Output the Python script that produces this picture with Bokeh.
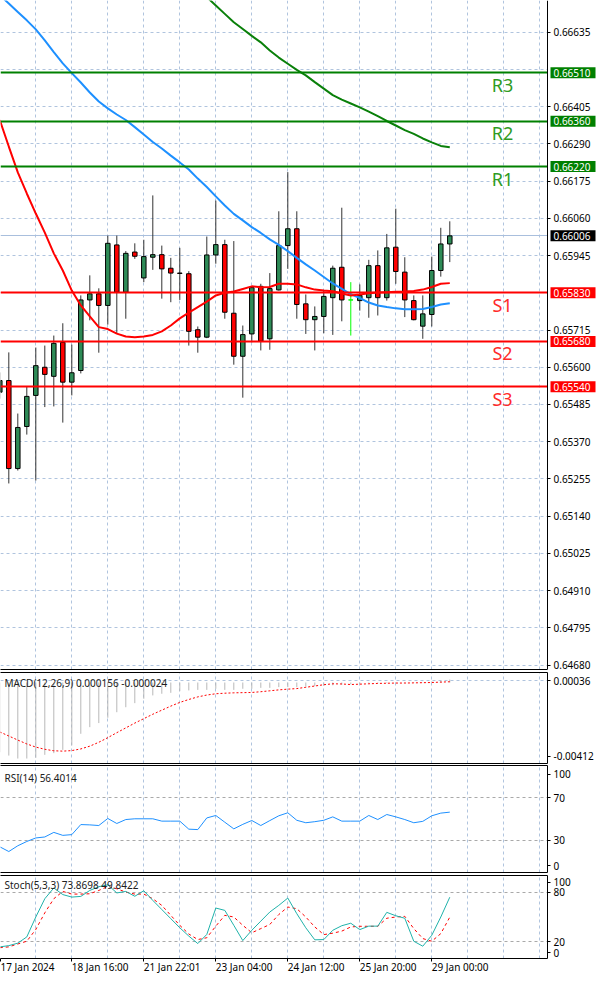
from bokeh.plotting import figure
from bokeh.layouts import column
from bokeh.models import (Range1d, FixedTicker, LinearAxis, Label, ColumnDataSource,
                          NumeralTickFormatter)
from bokeh.embed import file_html
from bokeh.resources import INLINE
from bokeh.core.properties import value

# ---------------- data (H4 candles, index -1 .. 49) ----------------
idx = list(range(-1, 50))

open_ = [0.65523, 0.65559, 0.65287, 0.65417, 0.65513, 0.65600, 0.65572, 0.65677, 0.65554, 0.65590,
         0.65808, 0.65827, 0.65791, 0.65978, 0.65832, 0.65956, 0.65876, 0.65940, 0.65948, 0.65906,
         0.65891, 0.65889, 0.65716, 0.65693, 0.65947, 0.65979, 0.65767, 0.65634, 0.65703, 0.65850,
         0.65688, 0.65839, 0.65976, 0.66028, 0.65796, 0.65747, 0.65757, 0.65815, 0.65909, 0.65808,
         0.65806, 0.65815, 0.65914, 0.65815, 0.65971, 0.65894, 0.65806, 0.65727, 0.65763, 0.65899,
         0.65981]
high = [0.65584, 0.65646, 0.65457, 0.65541, 0.65661, 0.65667, 0.65698, 0.65736, 0.65670, 0.65822,
        0.65884, 0.65844, 0.66007, 0.66007, 0.65959, 0.65983, 0.65994, 0.66131, 0.65976, 0.65938,
        0.65969, 0.65897, 0.65726, 0.66004, 0.66115, 0.65994, 0.65990, 0.65729, 0.65850, 0.65858,
        0.65891, 0.66082, 0.66203, 0.66082, 0.65825, 0.65788, 0.65839, 0.65914, 0.66093, 0.65863,
        0.65856, 0.65932, 0.65961, 0.66012, 0.66090, 0.65940, 0.65822, 0.65822, 0.65942, 0.66031,
        0.66051]
low = [0.65503, 0.65241, 0.65281, 0.65392, 0.65250, 0.65477, 0.65479, 0.65429, 0.65513, 0.65581,
       0.65745, 0.65645, 0.65732, 0.65705, 0.65750, 0.65935, 0.65863, 0.65901, 0.65812, 0.65801,
       0.65808, 0.65667, 0.65645, 0.65690, 0.65920, 0.65750, 0.65608, 0.65506, 0.65677, 0.65652,
       0.65654, 0.65837, 0.65904, 0.65750, 0.65703, 0.65652, 0.65705, 0.65700, 0.65742, 0.65698,
       0.65775, 0.65753, 0.65760, 0.65806, 0.65858, 0.65755, 0.65745, 0.65688, 0.65726, 0.65880,
       0.65925]
close = [0.65559, 0.65287, 0.65414, 0.65510, 0.65605, 0.65578, 0.65674, 0.65554, 0.65583, 0.65808,
         0.65827, 0.65791, 0.65983, 0.65832, 0.65952, 0.65943, 0.65942, 0.65948, 0.65904, 0.65891,
         0.65890, 0.65711, 0.65693, 0.65947, 0.65979, 0.65770, 0.65634, 0.65701, 0.65846, 0.65681,
         0.65843, 0.65976, 0.66028, 0.65794, 0.65747, 0.65757, 0.65819, 0.65906, 0.65808, 0.65808,
         0.65822, 0.65914, 0.65815, 0.65969, 0.65896, 0.65808, 0.65747, 0.65765, 0.65899, 0.65981,
         0.66006]

ma_red = [0.66364, 0.66282, 0.66202, 0.66137, 0.66075, 0.66016, 0.65952, 0.65899, 0.65837, 0.65791,
          0.65757, 0.65724, 0.65718, 0.65704, 0.65695, 0.65693, 0.65695, 0.65700, 0.65711, 0.65729,
          0.65751, 0.65769, 0.65786, 0.65803, 0.65822, 0.65830, 0.65834, 0.65842, 0.65850, 0.65847,
          0.65848, 0.65858, 0.65858, 0.65856, 0.65847, 0.65840, 0.65837, 0.65835, 0.65828, 0.65822,
          0.65825, 0.65829, 0.65831, 0.65832, 0.65833, 0.65834, 0.65836, 0.65840, 0.65848, 0.65858,
          0.65860]
ma_blue = [0.66750, 0.66724, 0.66698, 0.66672, 0.66644, 0.66610, 0.66574, 0.66539, 0.66509, 0.66480,
           0.66449, 0.66421, 0.66400, 0.66381, 0.66364, 0.66342, 0.66319, 0.66296, 0.66276, 0.66254,
           0.66233, 0.66211, 0.66183, 0.66157, 0.66128, 0.66100, 0.66074, 0.66054, 0.66033, 0.66015,
           0.65995, 0.65978, 0.65959, 0.65938, 0.65918, 0.65899, 0.65879, 0.65859, 0.65842, 0.65826,
           0.65814, 0.65800, 0.65791, 0.65786, 0.65782, 0.65779, 0.65779, 0.65780, 0.65786, 0.65794,
           0.65798]
ma_green_idx = list(range(21, 50))
ma_green = [0.66770, 0.66744, 0.66718, 0.66692, 0.66666, 0.66645, 0.66624, 0.66604, 0.66579, 0.66557,
            0.66538, 0.66519, 0.66502, 0.66481, 0.66461, 0.66441, 0.66427, 0.66415, 0.66403, 0.66390,
            0.66376, 0.66361, 0.66347, 0.66333, 0.66321, 0.66307, 0.66295, 0.66284, 0.66280]

macd_hist = [-0.00378, -0.00396, -0.00412, -0.00412, -0.00408, -0.00392, -0.00383, -0.00365, -0.00341, -0.00278,
             -0.00242, -0.00220, -0.00191, -0.00161, -0.00134, -0.00112, -0.00088, -0.00070, -0.00061, -0.00056,
             -0.00047, -0.00043, -0.00040, -0.00040, -0.00034, -0.00040, -0.00040, -0.00034, -0.00034, -0.00029,
             -0.00029, -0.00025, -0.00025, -0.00025, -0.00022, -0.00020, -0.00018, -0.00015, -0.00012, -0.00010,
             -0.00008, -0.00006, -0.00004, -0.00003, -0.00002, -0.00003, -0.00002, 0.00001, 0.00006, 0.00011,
             0.000156]
macd_signal = [-0.00268, -0.00290, -0.00312, -0.00333, -0.00350, -0.00362, -0.00370, -0.00372, -0.00369, -0.00360,
               -0.00345, -0.00324, -0.00299, -0.00272, -0.00246, -0.00220, -0.00196, -0.00172, -0.00150, -0.00128,
               -0.00108, -0.00092, -0.00078, -0.00068, -0.00061, -0.00058, -0.00056, -0.00055, -0.00054, -0.00050,
               -0.00045, -0.00040, -0.00036, -0.00033, -0.00026, -0.00019, -0.00012, -0.00007, -0.00008, -0.00011,
               -0.00009, -0.00007, -0.00005, -0.00004, -0.00003, -0.00003, -0.00002, -0.00001, 0.00000, 0.00002,
               0.00004]

rsi = [24, 19.6, 25, 29, 32.3, 33.2, 37.5, 34.7, 35.4, 44.8,
       44.5, 43.9, 50.5, 45.8, 49.5, 50.2, 50.2, 50.2, 48, 48,
       48, 40.5, 40.1, 51, 53.3, 47, 40.8, 45, 48.6, 43.9,
       48.5, 53, 55.8, 48.8, 46.5, 47.5, 48.8, 52, 48, 48,
       48, 53.3, 49.5, 54.2, 52, 49.5, 46.5, 47.8, 53, 55.5,
       56.4014]

stoch_k = [14, 15.5, 18.5, 26, 50, 72, 85, 77, 74, 74.8,
           82, 86.5, 88.8, 79, 80.8, 75, 81.6, 70, 59, 48,
           37, 27, 18, 29, 60.8, 58, 40, 21.6, 34, 45,
           56, 64, 72.8, 54, 37, 22.5, 22.8, 34, 39.5, 42.5,
           34.8, 39, 39, 55.6, 51.5, 48.5, 20.8, 14.8, 28, 50,
           73.8698]
stoch_d = [13, 14, 17.5, 20.8, 35, 55, 72, 80.8, 77.6, 77.6,
           78, 82, 86.8, 84, 80, 77.6, 77.6, 72, 64, 52,
           40, 29.5, 22.8, 25, 39, 52, 50, 40, 31, 36,
           41, 53, 62, 60, 50, 38, 28.8, 30.5, 33, 38,
           38.8, 38.8, 38.8, 48.5, 50, 50.8, 36, 24, 20.8, 30,
           49.8422]

r_levels = [0.66510, 0.66360, 0.66220]
r_names = ["R3", "R2", "R1"]
s_levels = [0.65830, 0.65680, 0.65540]
s_names = ["S1", "S2", "S3"]
current_price = 0.66006

price_ticks = [0.64680, 0.64795, 0.64910, 0.65025, 0.65140, 0.65255, 0.65370, 0.65485, 0.65600,
               0.65715, 0.65830, 0.65945, 0.66060, 0.66175, 0.66290, 0.66405, 0.66520, 0.66635]
price_labels_hidden = [0.66520, 0.65830]
grid_x = [3, 7, 11, 15, 19, 23, 27, 31, 35, 39, 43, 47, 51, 55, 59]
time_ticks = [-0.92, 7, 15, 23, 31, 39, 47]
time_labels = ["17 Jan 2024", "18 Jan 16:00", "21 Jan 22:01", "23 Jan 04:00",
               "24 Jan 12:00", "25 Jan 20:00", "29 Jan 00:00"]

# window max / min labels are drawn just inside the sub-window edges
macd_ticks = {0.000108: "0.00036", -0.00401: "-0.00412"}
rsi_ticks = {6.5: "0", 30: "30", 70: "70", 91.6: "100"}
rsi_levels = [30, 70]
stoch_ticks = {7.2: "0", 20: "20", 80: "80", 91.6: "100"}
stoch_levels = [20, 80]

# ---------------- styling ----------------
FONT = "Noto Sans"
FW = 547                 # width of the plotting area
AXW = 53                 # price-scale strip on the right
X0, X1 = -0.922, 59.856  # candle-index range of the plotting area
U = (X1 - X0) / FW       # index units per pixel
GRID = "#B0C4DE"
BULL = "#2E8B57"
BEAR = "#FF0000"
DOJI = "#00FF00"
xr = Range1d(X0, X1)


def style_axis(ax):
    ax.axis_line_color = "black"
    ax.major_tick_in = 0
    ax.major_tick_out = 3
    ax.minor_tick_in = 0
    ax.minor_tick_out = 0
    ax.major_tick_line_color = "black"
    ax.major_label_standoff = 3
    ax.major_label_text_font = FONT
    ax.major_label_text_font_size = "10px"
    ax.major_label_text_color = "black"


def grids(p):
    p.xgrid.ticker = FixedTicker(ticks=grid_x)
    p.xgrid.grid_line_color = GRID
    p.xgrid.grid_line_dash = "3 3"
    p.ygrid.grid_line_color = GRID
    p.ygrid.grid_line_dash = "3 3"


def panel(fh, yr, top, bottom):
    p = figure(frame_width=FW, frame_height=fh, x_range=xr, y_range=yr,
               output_backend="svg", toolbar_location=None,
               y_axis_location="right", x_axis_location=None,
               min_border_left=0, min_border_right=AXW,
               min_border_top=top, min_border_bottom=bottom,
               background_fill_color="white", border_fill_color="white")
    p.outline_line_color = None
    grids(p)
    style_axis(p.yaxis[0])
    return p


def edge(p, where, bounds="auto"):
    a = LinearAxis(ticker=FixedTicker(ticks=[]), major_tick_in=0, major_tick_out=0,
                   minor_tick_in=0, minor_tick_out=0, major_label_standoff=0,
                   axis_line_color="black", bounds=bounds)
    p.add_layout(a, where)


def title(p, fh, text, dy):
    p.add_layout(Label(x=4, y=fh - dy, x_units="screen", y_units="screen", text=text,
                       text_font=FONT, text_font_size="10px", text_color="#202020",
                       text_baseline="middle"))


# ---------------- main price panel (price scale drawn inside the frame) ----------------
MH = 669
PY0, PY1 = 0.646661, 0.667333
XM1 = X0 + (FW + AXW) * U
pm = figure(frame_width=FW + AXW, frame_height=MH, x_range=Range1d(X0, XM1),
            y_range=Range1d(PY0, PY1), output_backend="svg", toolbar_location=None,
            x_axis_location=None, y_axis_location=None,
            min_border_left=0, min_border_right=0, min_border_top=0, min_border_bottom=2,
            background_fill_color="white", border_fill_color="white")
pm.outline_line_color = None
grids(pm)
pm.ygrid.ticker = FixedTicker(ticks=price_ticks)
edge(pm, "below", bounds=(X0, X1))

pm.hspan(y=[current_price], line_color="#A9BFDD", line_width=1)

body_top = [max(o, c) for o, c in zip(open_, close)]
body_bot = [min(o, c) for o, c in zip(open_, close)]
fill = [BULL if c > o else (BEAR if c < o else DOJI) for o, c in zip(open_, close)]
edgec = ["#000000" if c != o else DOJI for o, c in zip(open_, close)]
wick = ["#333333" if c != o else DOJI for o, c in zip(open_, close)]
src = ColumnDataSource(dict(x=idx, h=high, l=low, top=body_top, bot=body_bot,
                            fill=fill, edge=edgec, wick=wick))
pm.segment(x0="x", y0="l", x1="x", y1="h", line_color="wick", line_width=1, source=src)
pm.vbar(x="x", width=0.5, top="top", bottom="bot", fill_color="fill",
        line_color="edge", line_width=1, source=src)

pm.line(idx, ma_blue, line_color="#1E90FF", line_width=2)
pm.line(idx, ma_red, line_color="#FF0000", line_width=2)
pm.line(ma_green_idx, ma_green, line_color="#0A800A", line_width=2)

pm.hspan(y=r_levels, line_color="#008000", line_width=2)
pm.hspan(y=s_levels, line_color="#FF0000", line_width=2)

# blank price-scale strip
pm.quad(left=[X1], right=[XM1], bottom=[PY0], top=[PY1], fill_color="white", line_color=None)

pm.text(x=[54.86] * 3, y=r_levels, text=r_names, text_color="#2E9B22",
        text_font=value(FONT), text_font_size="18px", text_align="center",
        text_baseline="top", y_offset=0)
pm.text(x=[54.86] * 3, y=s_levels, text=s_names, text_color="#FF2A2A",
        text_font=value(FONT), text_font_size="18px", text_align="center",
        text_baseline="top", y_offset=0)

# coloured price boxes on the scale
box_levels = r_levels + s_levels + [current_price]
box_colors = ["#008000"] * 3 + ["#FF0000"] * 3 + ["#000000"]
pm.rect(x=[X1 + 25.5 * U] * len(box_levels), y=box_levels, width=45, height=11,
        width_units="screen", height_units="screen", fill_color=box_colors, line_color=None)
pm.text(x=[X1] * len(box_levels), y=box_levels, text=[f"{v:.5f}" for v in box_levels],
        x_offset=6, text_color="white", text_font=value(FONT), text_font_size="10px",
        text_align="left", text_baseline="middle")

pax = LinearAxis(ticker=FixedTicker(ticks=[t for t in price_ticks if t not in price_labels_hidden]),
                 formatter=NumeralTickFormatter(format="0.00000"), fixed_location=X1)
style_axis(pax)
pm.add_layout(pax, "right")

# ---------------- MACD ----------------
MCH = 91
pmacd = panel(MCH, Range1d(-0.00439, 0.000542), 1, 2)
edge(pmacd, "below")
edge(pmacd, "above")
pmacd.yaxis[0].ticker = FixedTicker(ticks=list(macd_ticks.keys()))
pmacd.yaxis[0].major_label_overrides = macd_ticks
pmacd.ygrid.ticker = FixedTicker(ticks=[list(macd_ticks.keys())[0]])
pmacd.segment(x0=idx, y0=[0] * len(idx), x1=idx, y1=macd_hist, line_color="#B8B8B8", line_width=1)
pmacd.line(idx, macd_signal, line_color="#FF0000", line_width=1, line_dash="2 2")
title(pmacd, MCH, "MACD(12,26,9) 0.000156 -0.000024", 10)

# ---------------- RSI ----------------
RH = 107
prsi = panel(RH, Range1d(0, 100), 0, 1)
edge(prsi, "below")
edge(prsi, "above")
prsi.yaxis[0].ticker = FixedTicker(ticks=list(rsi_ticks.keys()))
prsi.yaxis[0].major_label_overrides = rsi_ticks
prsi.ygrid.grid_line_color = None
prsi.hspan(y=rsi_levels, line_color="#A9A9A9", line_width=1, line_dash="3 3")
prsi.line(idx, rsi, line_color="#1E90FF", line_width=1)
title(prsi, RH, "RSI(14) 56.4014", 12)

# ---------------- Stochastic ----------------
SH = 83
pst = panel(SH, Range1d(0, 100), 2, 21)
edge(pst, "above")
pst.yaxis[0].ticker = FixedTicker(ticks=list(stoch_ticks.keys()))
pst.yaxis[0].major_label_overrides = stoch_ticks
pst.ygrid.grid_line_color = None
pst.hspan(y=stoch_levels, line_color="#A9A9A9", line_width=1, line_dash="3 3")
pst.line(idx, stoch_d, line_color="#FF0000", line_width=1, line_dash="3 3")
pst.line(idx, stoch_k, line_color="#20B2AA", line_width=1)
title(pst, SH, "Stoch(5,3,3) 73.8698 49.8422", 9)

xa = LinearAxis(ticker=FixedTicker(ticks=time_ticks),
                major_label_overrides=dict(zip(time_ticks, time_labels)),
                major_label_orientation=-0.0001, major_label_text_font=FONT,
                major_label_text_font_size="10px", major_label_text_color="black",
                major_tick_in=0, major_tick_out=3, minor_tick_in=0, minor_tick_out=0,
                major_label_standoff=5, axis_line_color="black")
pst.add_layout(xa, "below")

layout = column(pm, pmacd, prsi, pst, spacing=0)
open("out.html", "w").write(file_html(layout, INLINE))
